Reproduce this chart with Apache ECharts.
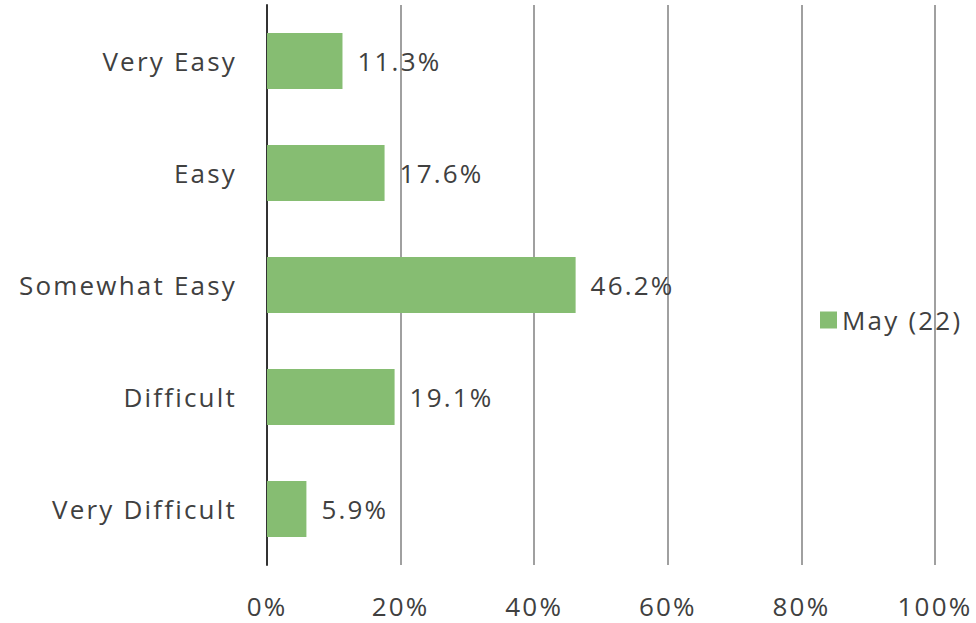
<!DOCTYPE html>
<html><head><meta charset="utf-8">
<script src="https://cdn.jsdelivr.net/npm/echarts@6/dist/echarts.min.js"></script>
<style>html,body{margin:0;padding:0;background:#fff}#c{width:976px;height:623px}#c text{letter-spacing:2.2px}</style>
</head><body><div id="c"></div>
<script>
const categories = ["Very Easy", "Easy", "Somewhat Easy", "Difficult", "Very Difficult"];
const seriesName = "May (22)";
const values = [11.3, 17.6, 46.2, 19.1, 5.9];
const xTicks = [0, 20, 40, 60, 80, 100];

const chart = echarts.init(document.getElementById('c'), null, { renderer: 'svg' });
const font = '"Open Sans", Lato, sans-serif';
const fs = 26;
chart.setOption({
  animation: false,
  textStyle: { fontFamily: font },
  grid: { left: 267, right: 41, top: 5, bottom: 58, containLabel: false },
  legend: {
    data: [seriesName], left: 815, top: 302, orient: 'vertical',
    itemWidth: 17, itemHeight: 17, itemGap: 8,
    icon: 'rect',
    textStyle: { fontSize: fs, color: '#404040', fontFamily: font }
  },
  xAxis: {
    type: 'value', min: xTicks[0], max: xTicks[xTicks.length - 1], interval: xTicks[1] - xTicks[0],
    axisLabel: { formatter: v => v + '%', fontSize: fs, color: '#404040', margin: 28, fontFamily: font },
    splitLine: { show: true, lineStyle: { color: '#a0a0a0', width: 2 } },
    axisLine: { show: false }, axisTick: { show: false }
  },
  yAxis: {
    type: 'category', data: categories, inverse: true,
    axisLabel: { fontSize: fs, color: '#404040', margin: 30, fontFamily: font, padding: [10, 0, 0, 0] },
    axisLine: { show: true, lineStyle: { color: '#333', width: 2 } },
    axisTick: { show: false }
  },
  series: [{
    name: seriesName, type: 'bar', data: values, barWidth: '50%',
    itemStyle: { color: '#86bd72' },
    label: { show: true, position: 'right', distance: 15, formatter: p => p.value.toFixed(1) + '%',
      fontSize: fs, color: '#404040', fontFamily: font, padding: [10, 0, 0, 0] }
  }]
});
</script></body></html>
